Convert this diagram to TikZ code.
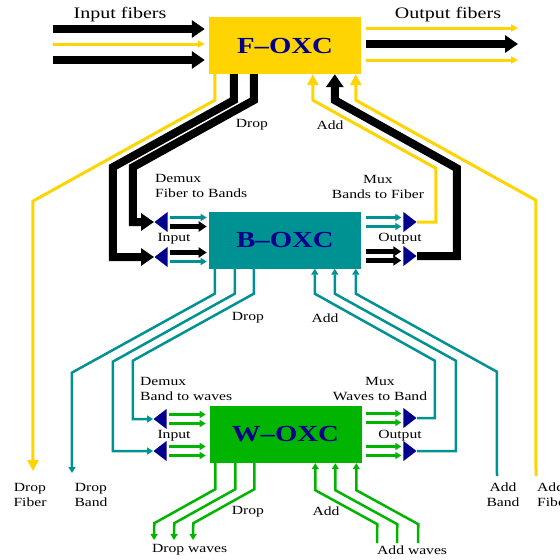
\documentclass[tikz,border=0pt]{standalone}
\usepackage{fontspec}
\setmainfont[FakeStretch=1.25]{Liberation Serif}
\usetikzlibrary{arrows.meta,shapes.geometric}

\definecolor{fibrecol}{RGB}{255,212,0}
\definecolor{bandcol}{RGB}{0,146,146}
\definecolor{wavecol}{RGB}{0,180,0}
\definecolor{navy}{RGB}{0,0,140}

\tikzset{
  oxc/.style={minimum width=152pt,minimum height=57pt,inner sep=0pt,text=navy,font=\fontsize{23}{23}\selectfont\bfseries},
  demux/.style={isosceles triangle,isosceles triangle stretches,shape border rotate=180,fill=navy,inner sep=0pt,minimum width=20pt,minimum height=13pt,anchor=apex},
  mux/.style={demux,shape border rotate=0},
  lbl/.style={inner sep=0pt,font=\fontsize{12.5}{15}\selectfont,align=center},
  ttl/.style={inner sep=0pt,font=\fontsize{16}{18}\selectfont},
  fibblack/.style={line width=8pt,>={Triangle[length=13pt,width=17pt]}},
  yfib/.style={fibrecol,line width=3pt,>={Triangle[length=7pt,width=7pt]}},
  yfibbig/.style={yfib,>={Triangle[length=11pt,width=11pt]}},
  blackln/.style={line width=4.5pt,>={Triangle[length=8pt,width=10pt]}},
  bandln/.style={bandcol,line width=2.5pt,>={Triangle[length=6pt,width=7pt]}},
  waveln/.style={wavecol,line width=2.5pt,>={Triangle[length=6pt,width=7pt]}}
}

\begin{document}
\begin{tikzpicture}[x=1pt,y=-1pt]
\useasboundingbox (0,0) rectangle (560,560);

\node[oxc,fill=fibrecol] (F) at (285,45.5) {F--OXC};
\node[oxc,fill=bandcol] (B) at (285,240) {B--OXC};
\node[oxc,fill=wavecol] (W) at (285.5,434.5) {W--OXC};

\node[demux] (Bdu) at (154,222) {};
\node[demux] (Bdl) at (154,257) {};
\node[mux] (Bmu) at (417,222) {};
\node[mux] (Bml) at (417,256) {};
\node[demux] (Wdu) at (153,419) {};
\node[demux] (Wdl) at (153,451) {};
\node[mux] (Wmu) at (417,418) {};
\node[mux] (Wml) at (417,451) {};

\foreach \y/\s in {29/fibblack,44/yfib,60/fibblack}
{
\coordinate (in\y) at (53,\y);
\draw[\s,->,shorten >=4pt] (in\y) -- (in\y -| F.west);
}
\foreach \y/\s in {28/yfib,44/fibblack,60/yfib}
{
\coordinate (out\y) at (518,\y);
\draw[\s,->,shorten <=5pt] (out\y -| F.east) -- (out\y);
}

\coordinate (dropfibre) at (33,471);
\coordinate (addfibre) at (536,476);
\draw[yfibbig,->] ([xshift=6pt]F.south west) -- ++(0,26) -- ++(-182,101) -- (dropfibre);
\draw[fibblack,->] ([xshift=25pt]F.south west) -- ++(0,26) -- ++(-121,67) |- (Bdl.apex);
\draw[fibblack,->] ([xshift=45pt]F.south west) -- ++(0,26) -- ++(-121,67) |- (Bdu.apex);
\draw[yfibbig,<-] ([xshift=104pt]F.south west) -- ++(0,26) -- ++(123,68) |- (Bmu.apex);
\draw[fibblack,<-] ([xshift=126pt]F.south west) -- ++(0,26) -- ++(122,68) |- (Bml.apex);
\draw[yfibbig,<-] ([xshift=147pt]F.south west) -- ++(0,26) -- ++(180,100) -- (addfibre);

\coordinate (dropband) at (72,473);
\coordinate (addband) at (497,476);
\draw[bandln,->] ([xshift=6pt]B.south west) -- ++(0,25) -- ++(-143,79) -- (dropband);
\draw[bandln,->] ([xshift=26pt]B.south west) -- ++(0,25) -- ++(-122,68) |- (Wdl.apex);
\draw[bandln,->] ([xshift=45pt]B.south west) -- ++(0,25) -- ++(-121,67) |- (Wdu.apex);
\draw[bandln,<-] ([xshift=106pt]B.south west) -- ++(0,25) -- ++(120,67) |- (Wmu.apex);
\draw[bandln,<-] ([xshift=126pt]B.south west) -- ++(0,25) -- ++(121,67) |- (Wml.apex);
\draw[bandln,<-] ([xshift=147pt]B.south west) -- ++(0,25) -- ++(141,78) -- (addband);

\foreach \i/\dx in {1/6,2/26,3/45}
{
\coordinate (dropwave\i) at (\dx+148,540);
\draw[waveln,->] ([xshift=\dx pt]W.south west) -- ++(0,26) -- ++(-61,34) -- (dropwave\i);
}
\foreach \i/\dx in {1/106,2/126,3/147}
{
\coordinate (addwave\i) at (\dx+271,543);
\draw[waveln,<-] ([xshift=\dx pt]W.south west) -- ++(0,27) -- ++(62,34) -- (addwave\i);
}

\foreach \t/\a/\b in {Bdu/bandln/blackln,Bdl/blackln/bandln,Wdu/waveln/waveln,Wdl/waveln/waveln}
{
\draw[\a,->] ([shift={(2pt,4.5pt)}]\t.lower side) -- ++(37,0);
\draw[\b,->] ([shift={(2pt,-4.5pt)}]\t.lower side) -- ++(37,0);
}
\foreach \t/\a/\b in {Bmu/bandln/bandln,Bml/blackln/blackln,Wmu/waveln/waveln,Wml/waveln/waveln}
{
\draw[\a,<-] ([shift={(-2pt,4.5pt)}]\t.lower side) -- ++(-35,0);
\draw[\b,<-] ([shift={(-2pt,-4.5pt)}]\t.lower side) -- ++(-35,0);
}

\node[ttl] (inlbl) at (120,15) {Input fibers};
\node[ttl] (outlbl) at (448,15) {Output fibers};
\node[lbl] (fdrop) at (252,125) {Drop};
\node[lbl] (fadd) at (330,125) {Add};
\node[lbl,anchor=west,align=left] (bdemux) at (155,186) {Demux\\Fiber to Bands};
\node[lbl] (bmux) at (378,187) {Mux\\Bands to Fiber};
\node[lbl] (bin) at (174,239) {Input};
\node[lbl] (bout) at (400,239) {Output};
\node[lbl] (bdrop) at (248,318) {Drop};
\node[lbl] (badd) at (325,318) {Add};
\node[lbl,anchor=west,align=left] (wdemux) at (140,389) {Demux\\Band to waves};
\node[lbl] (wmux) at (380,389) {Mux\\Waves to Band};
\node[lbl] (win) at (174,436) {Input};
\node[lbl] (wout) at (400,436) {Output};
\node[lbl] (wdrop) at (248,512) {Drop};
\node[lbl] (wadd) at (326,511) {Add};
\node[lbl] (dflbl) at (30,495) {Drop\\Fiber};
\node[lbl] (dblbl) at (91,495) {Drop\\Band};
\node[lbl] (ablbl) at (503,495) {Add\\Band};
\node[lbl,anchor=west,align=left] (aflbl) at (537,495) {Add\\Fiber};
\node[lbl,anchor=west] (dwlbl) at (152,550) {Drop waves};
\node[lbl,anchor=west] (awlbl) at (377,550) {Add waves};
\end{tikzpicture}
\end{document}
